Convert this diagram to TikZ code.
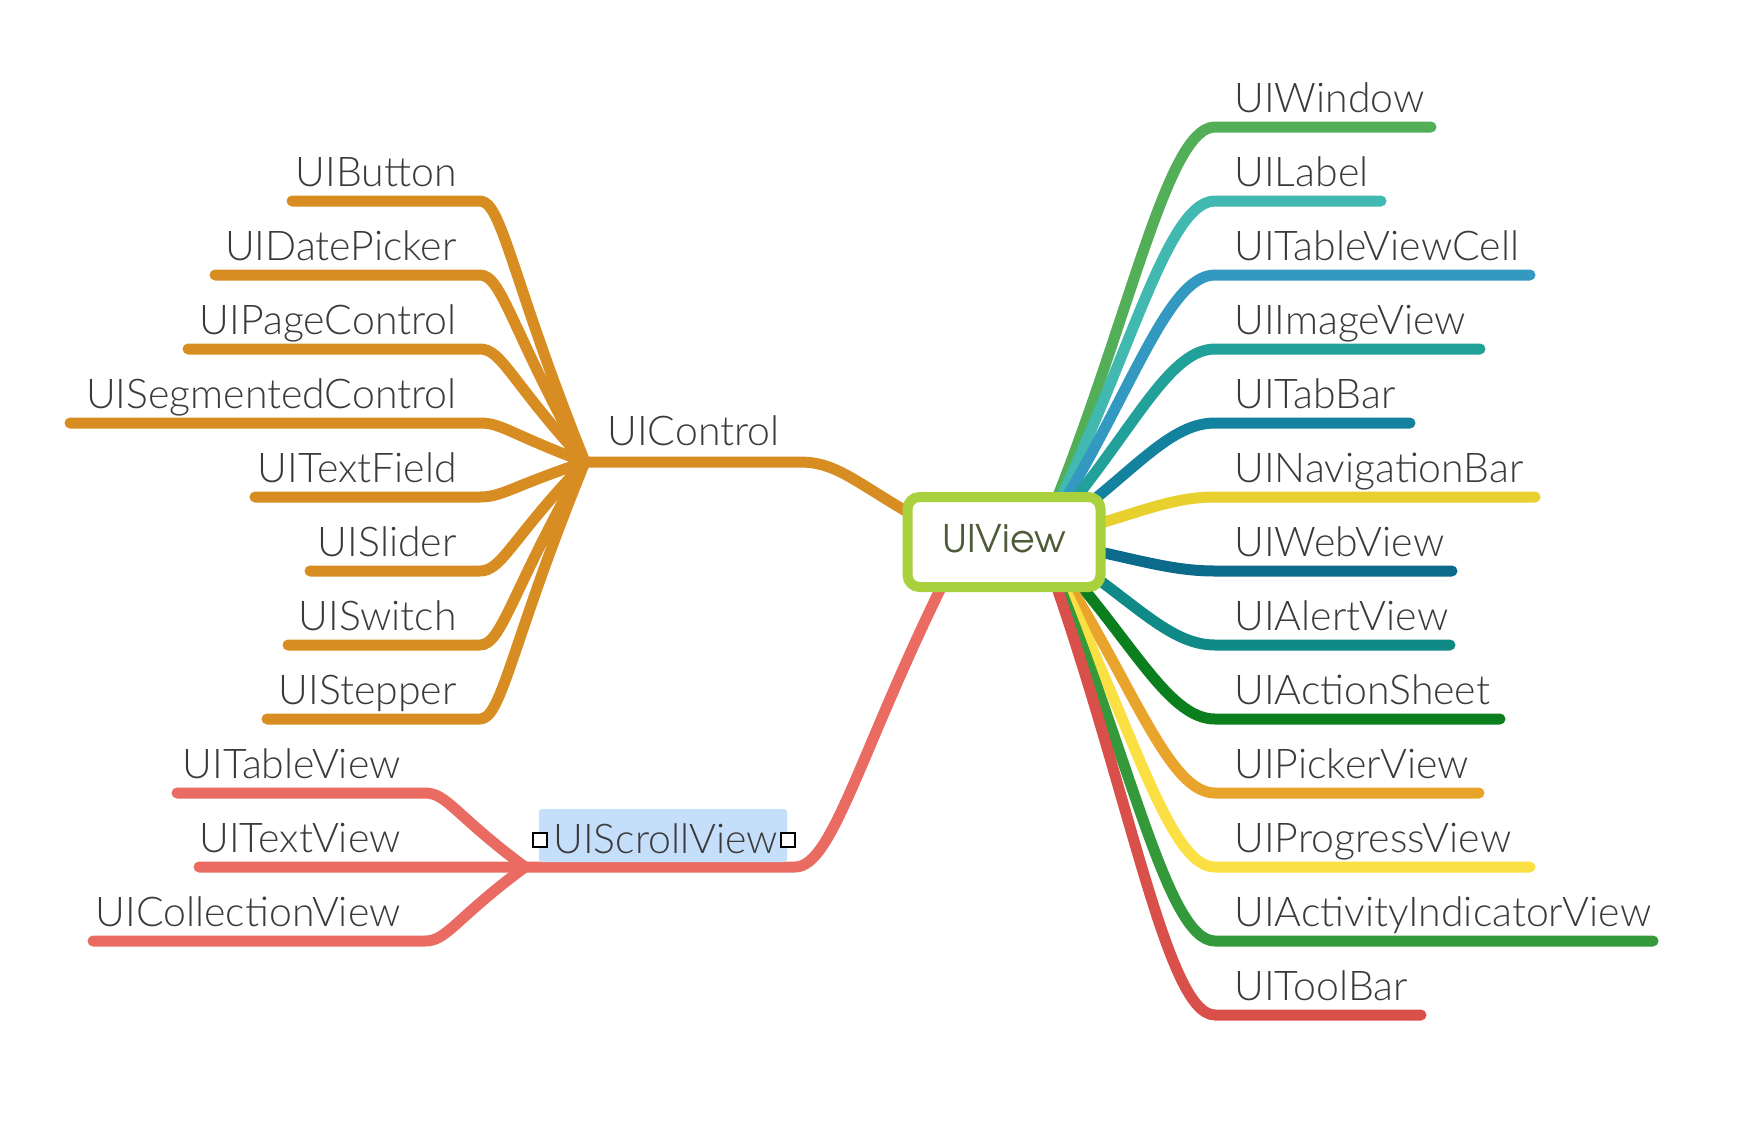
\documentclass[tikz,border=0pt]{standalone}
\usepackage{fontspec}
\setmainfont{Lato}[UprightFont=* Light]
\newfontfamily\advfont{texgyreadventor-regular.otf}
\usetikzlibrary{calc}
\definecolor{txtgray}{HTML}{3A3A3A}
\definecolor{ctrlcol}{HTML}{D78D22}
\definecolor{scrollcol}{HTML}{EA6B62}
\definecolor{boxgreen}{HTML}{A9D13E}
\definecolor{viewtxt}{HTML}{4F5B38}
\definecolor{hlblue}{HTML}{C5DFFA}
\definecolor{cWin}{HTML}{52AE57}
\definecolor{cLab}{HTML}{42B9B0}
\definecolor{cCell}{HTML}{3399C0}
\definecolor{cImg}{HTML}{21A199}
\definecolor{cTab}{HTML}{13829F}
\definecolor{cNav}{HTML}{E8D02F}
\definecolor{cWeb}{HTML}{0C6A8B}
\definecolor{cAlert}{HTML}{108A86}
\definecolor{cAct}{HTML}{0B7E1E}
\definecolor{cPick}{HTML}{E9A42C}
\definecolor{cProg}{HTML}{FBE044}
\definecolor{cInd}{HTML}{33993A}
\definecolor{cTool}{HTML}{D9504B}
\begin{document}
\begin{tikzpicture}[x=0.5pt,y=-0.5pt,
  lbl/.style={font=\fontsize{20.5}{24}\selectfont, text=txtgray, inner sep=0pt},
  br/.style={line width=5.5pt, line cap=round, line join=round},
]
\useasboundingbox (0,0) rectangle (1756,1126);

% ---------- UIControl branch ----------
\coordinate (hubC) at (585,462);
\foreach \name/\k/\lx in {UIButton/1/292,UIDatePicker/2/215,UIPageControl/3/188,UISegmentedControl/4/70,UITextField/5/255,UISlider/6/310,UISwitch/7/288,UIStepper/8/267}{
  \pgfmathsetmacro\yy{127+74*\k}
  \coordinate (cs\k) at (\lx,\yy);
  \coordinate (cb\k) at (480,\yy);
  \node[lbl, anchor=base east] (cl\k) at (457,\yy-15) {\name};
  \draw[br, draw=ctrlcol] (cs\k) -- (cb\k) .. controls ($(cb\k)+(22,0)$) and ($(hubC)!0.7!(cb\k)$) .. (hubC);
}
\coordinate (bendC) at (800,462);
\coordinate (oC) at (960,540);
\draw[br, draw=ctrlcol] (hubC) -- (bendC) .. controls ($(bendC)+(45,0)$) and ($(oC)!0.6!(bendC)$) .. (oC);
\node[lbl, anchor=base west] (ctrl) at (607,445) {UIControl};

% ---------- UIScrollView branch ----------
\coordinate (hubS) at (525,867);
\foreach \name/\k/\lx in {UITableView/9/177,UITextView/10/199,UICollectionView/11/93}{
  \pgfmathsetmacro\yy{127+74*\k}
  \coordinate (ss\k) at (\lx,\yy);
  \coordinate (sb\k) at (425,\yy);
  \node[lbl, anchor=base east] (sl\k) at (401,\yy-15) {\name};
  \draw[br, draw=scrollcol] (ss\k) -- (sb\k) .. controls ($(sb\k)+(22,0)$) and ($(hubS)!0.7!(sb\k)$) .. (hubS);
}
\coordinate (bendS) at (795,867);
\coordinate (oS) at (965,540);
\draw[br, draw=scrollcol] (hubS) -- (bendS) .. controls ($(bendS)+(40,0)$) and ($(oS)!0.6!(bendS)$) .. (oS);
\node[fill=hlblue, rounded corners=1.5pt, minimum width=124pt, minimum height=26.5pt, inner sep=0pt] (hl) at (663,835.5) {};
\node[lbl, anchor=base west] (scroll) at (553,853) {UIScrollView};
\node[draw=black, fill=white, line width=1pt, minimum size=7pt, inner sep=0pt] (sqL) at (540,840) {};
\node[draw=black, fill=white, line width=1pt, minimum size=7pt, inner sep=0pt] (sqR) at (787.5,840) {};

% ---------- right branches ----------
\coordinate (oR) at (1040,540);
\foreach \name/\k/\ex/\col in {UIWindow/0/1431/cWin,UILabel/1/1381/cLab,UITableViewCell/2/1530/cCell,UIImageView/3/1480/cImg,UITabBar/4/1410/cTab,UINavigationBar/5/1535/cNav,UIWebView/6/1452/cWeb,UIAlertView/7/1450/cAlert,UIActionSheet/8/1500/cAct,UIPickerView/9/1479/cPick,UIProgressView/10/1530/cProg,UIActivityIndicatorView/11/1653/cInd,UIToolBar/12/1421/cTool}{
  \pgfmathsetmacro\yy{127+74*\k}
  \coordinate (rb\k) at (1215,\yy);
  \coordinate (re\k) at (\ex,\yy);
  \node[lbl, anchor=base west] (rl\k) at (1234,\yy-15) {\name};
  \draw[br, draw=\col] (oR) .. controls ($(oR)!0.5!(rb\k)$) and ($(rb\k)+(-50,0)$) .. (rb\k) -- (re\k);
}

% ---------- central node ----------
\node[draw=boxgreen, fill=white, line width=5pt, rounded corners=6pt, minimum width=96.5pt, minimum height=45pt, inner sep=0pt, text depth=4pt, font=\advfont\fontsize{19}{22}\selectfont, text=viewtxt] (view) at (1004,542) {UIView};
\end{tikzpicture}
\end{document}
